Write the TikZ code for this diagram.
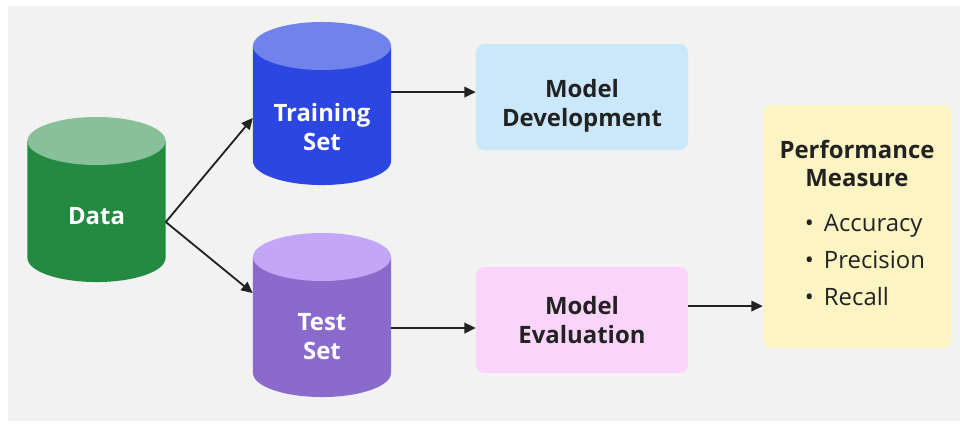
\documentclass[tikz,border=0pt]{standalone}
\usepackage{fontspec}
\setmainfont{Open Sans}
\usetikzlibrary{positioning, shapes.geometric, arrows.meta}
\definecolor{bgG}{HTML}{F2F2F2}
\definecolor{ink}{HTML}{222222}
\definecolor{dataS}{HTML}{248A42}
\definecolor{dataT}{HTML}{88C199}
\definecolor{trainS}{HTML}{2C46E2}
\definecolor{trainT}{HTML}{7083EC}
\definecolor{testS}{HTML}{8A6BCB}
\definecolor{testT}{HTML}{C3A7F6}
\definecolor{devF}{HTML}{CBE8FB}
\definecolor{evalF}{HTML}{FBD4FB}
\definecolor{perfF}{HTML}{FCF5C3}
\tikzset{
  lbl/.style   ={font=\bfseries\fontsize{17}{20}\selectfont, align=center},
  can/.style 2 args={lbl, text=white, inner sep=0pt,
                 minimum width=3.45cm, minimum height=4.1cm,
                 path picture={
                   \fill[#1] ([yshift=-0.6cm]path picture bounding box.north west)
                     -- ([yshift=0.6cm]path picture bounding box.south west)
                     arc[start angle=180, end angle=360, x radius=1.725cm, y radius=0.6cm]
                     -- ([yshift=-0.6cm]path picture bounding box.north east) -- cycle;
                   \fill[#2] ([yshift=-0.6cm]path picture bounding box.north)
                     ellipse[x radius=1.725cm, y radius=0.6cm];
                 }},
  card/.style  ={lbl, rounded corners=6pt, text=ink,
                 minimum width=5.3cm, minimum height=2.65cm},
  arr/.style   ={-{Triangle[length=8pt,width=7.5pt]}, line width=1.3pt, ink},
}
\begin{document}
\begin{tikzpicture}[x=0.025cm, y=-0.025cm]
\fill[white] (0,0) rectangle (960,424);
\fill[bgG] (8,6) rectangle (960,421);

% data and its two splits
\node[can={dataS}{dataT}, minimum height=4.125cm,
      text height=35.6pt, text depth=0pt] (D) at (96.5,199.5) {Data};
\node[can={trainS}{trainT}, minimum height=4.075cm,
      text height=66.2pt, text depth=0pt] (TR) at (322,103.5) {Training\\Set};
\node[can={testS}{testT},
      text height=62.6pt, text depth=0pt] (TE) at (322,315) {Test\\Set};

% model stages
\node[card, fill=devF, text height=45.5pt, text depth=4.1pt] (MD) at (582,97) {Model\\Development};
\node[card, fill=evalF] (ME) at (582,320) {Model\\Evaluation};

% measures
\node[card, fill=perfF, minimum width=4.725cm, minimum height=6.075cm] (PM) at (857.5,226.5) {};
\node[lbl, text=ink] (PMt) at (857,163.5) {Performance\\Measure};
\node[font=\fontsize{17}{26.6}\selectfont, text=ink, align=left, anchor=west] (PMl) at (800,260)
  {\makebox[13.5pt][l]{\textbullet}Accuracy\\
   \makebox[13.5pt][l]{\textbullet}Precision\\
   \makebox[13.5pt][l]{\textbullet}Recall};

\coordinate (Dout) at ([yshift=-16pt]D.east);
\draw[arr] (Dout) -- ([yshift=-10.3pt]TR.west);
\draw[arr] (Dout) -- ([yshift=15.6pt]TE.west);
\draw[arr] ([yshift=3.5pt]MD.west -| TR.east) -- ([yshift=3.5pt]MD.west);
\draw[arr] ([yshift=-5.7pt]ME.west -| TE.east) -- ([yshift=-5.7pt]ME.west);
\draw[arr] ([yshift=9.9pt]ME.east) -- ([yshift=9.9pt]ME.east -| PM.west);
\end{tikzpicture}
\end{document}
